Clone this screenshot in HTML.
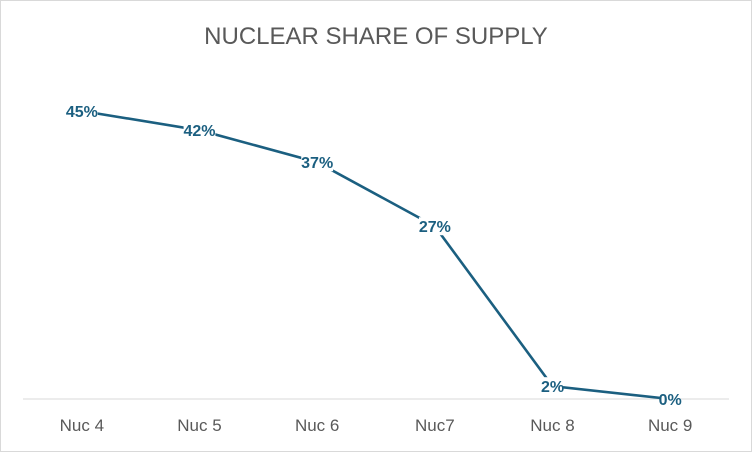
<!DOCTYPE html>
<html><head><meta charset="utf-8"><style>
body{margin:0;background:#fff}
svg{display:block;font-family:"Liberation Sans",sans-serif}
</style></head><body>
<svg width="752" height="452">
<rect x="0.5" y="0.5" width="751" height="451" fill="#fff" stroke="#d9d9d9"/>
<text x="376" y="44" text-anchor="middle" font-size="24" fill="#595959">NUCLEAR SHARE OF SUPPLY</text>
<line x1="23" y1="399" x2="729" y2="399" stroke="#d9d9d9"/>
<g id="g"></g>
</svg>
<script>
const categories=["Nuc 4","Nuc 5","Nuc 6","Nuc7","Nuc 8","Nuc 9"];
const values=[45,42,37,27,2,0];
const labels=["45%","42%","37%","27%","2%","0%"];
const left=23,right=729,y0=399,pxPer=6.4;
const step=(right-left)/categories.length;
const xs=i=>left+step*(i+0.5);
const ys=v=>y0-v*pxPer;
const g=document.getElementById('g');
const ns='http://www.w3.org/2000/svg';
categories.forEach((c,i)=>{
 const t=document.createElementNS(ns,'text');
 
 
 t.setAttribute('x',xs(i));t.setAttribute('y',431);
 t.setAttribute('text-anchor','middle');t.setAttribute('font-size','17');t.setAttribute('fill','#595959');
 t.textContent=c;g.appendChild(t);
});
const p=document.createElementNS(ns,'polyline');


p.setAttribute('points',values.map((v,i)=>xs(i)+','+ys(v)).join(' '));
p.setAttribute('fill','none');p.setAttribute('stroke','#1b5f80');p.setAttribute('stroke-width','2.6');
g.appendChild(p);
values.forEach((v,i)=>{
 const r=document.createElementNS(ns,'rect');
 
 
 r.setAttribute('x',xs(i)-labels[i].length*5.3);r.setAttribute('y',ys(v)-9);
 r.setAttribute('width',labels[i].length*10.6);r.setAttribute('height',18);r.setAttribute('fill','#fff');
 g.appendChild(r);
 const t=document.createElementNS(ns,'text');
 
 
 t.setAttribute('x',xs(i));t.setAttribute('y',ys(v)+6);
 t.setAttribute('text-anchor','middle');t.setAttribute('font-size','16');t.setAttribute('font-weight','bold');t.setAttribute('fill','#1b5f80');
 t.textContent=labels[i];g.appendChild(t);
});
</script>
</body></html>
